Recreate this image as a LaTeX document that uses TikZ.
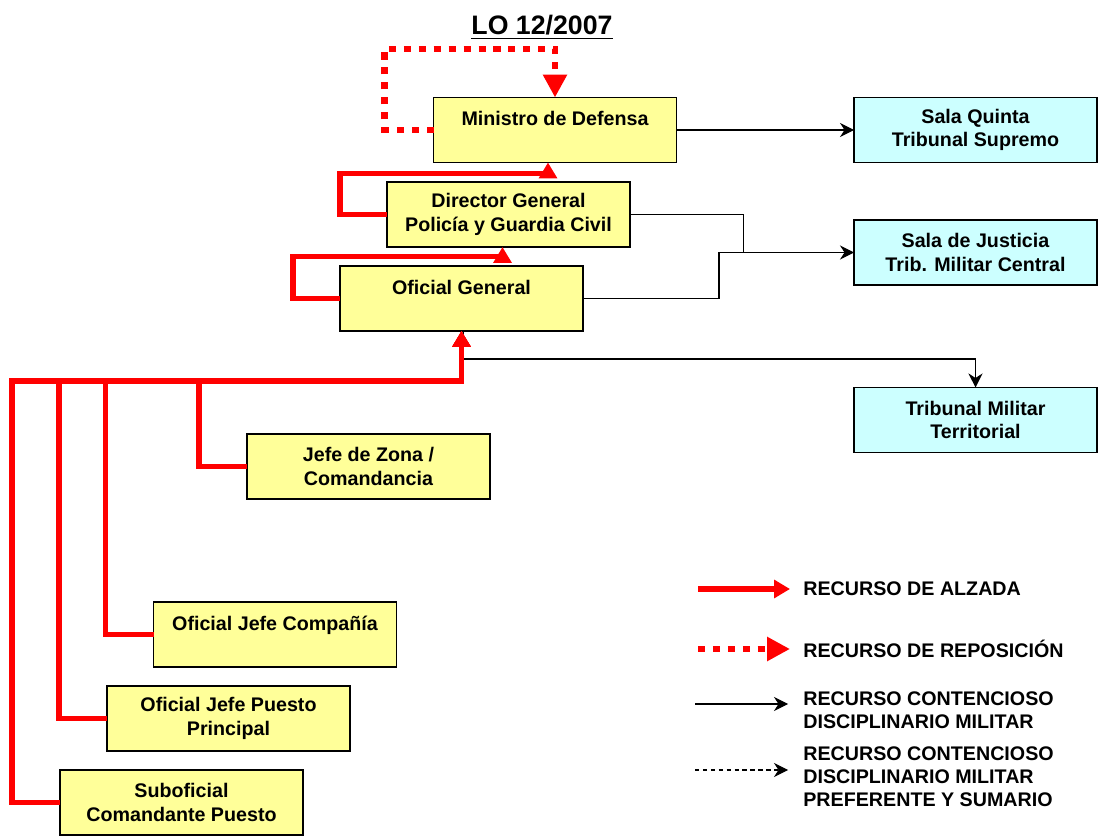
\documentclass[tikz,border=0pt]{standalone}
\usepackage{fontspec}
\setmainfont{Liberation Sans}
\usepackage{xcolor}
\usetikzlibrary{arrows.meta,positioning,calc}
\definecolor{amarillo}{HTML}{FFFF99}
\definecolor{celeste}{HTML}{CCFFFF}

\begin{document}
\begin{tikzpicture}[x=0.02cm,y=-0.02cm,
  caja/.style={draw,line width=0.9pt,minimum width=4.86cm,minimum height=1.3cm,
    inner sep=2pt,outer sep=0pt,align=center,font=\fontsize{11.2}{13.2}\selectfont\bfseries},
  mando/.style={caja,fill=amarillo},
  tribunal/.style={caja,fill=celeste},
  alzada/.style={red,line width=3pt,-{Triangle[length=9pt,width=10pt]}},
  reposicion/.style={red,line width=3.5pt,dash pattern=on 4pt off 4.5pt,-{Triangle[length=13pt,width=13pt]}},
  contencioso/.style={black,line width=0.6pt,-{Stealth[length=8pt,width=8pt]}},
  linea/.style={black,line width=0.6pt},
  leyenda/.style={anchor=west,inner sep=0pt,align=left,font=\fontsize{11.2}{13.2}\selectfont\bfseries}]
\useasboundingbox (0,0) rectangle (1102,837);

% Title
\node[anchor=base,font=\fontsize{15.2}{18}\selectfont\bfseries] (titulo) at (542,35) {\underline{LO 12/2007}};

% Chain of command
\node[mando] (min) at (555,130) {Ministro de Defensa\\~};
\node[mando] (dir) at (508.5,214.5) {Director General\\Policía y Guardia Civil};
\node[mando] (og) at (461.5,298.5) {Oficial General\\~};
\node[mando] (zona) at (368.5,466.5) {Jefe de Zona /\\Comandancia};
\node[mando] (comp) at (275,634.5) {Oficial Jefe Compañía\\~};
\node[mando] (puesto) at (228.5,718.5) {Oficial Jefe Puesto\\Principal};
\node[mando] (sub) at (181.5,802.5) {Suboficial\\Comandante Puesto};

% Courts
\node[tribunal] (sq) at (975.5,130) {Sala Quinta\\Tribunal Supremo};
\node[tribunal] (sj) at (975.5,252.5) {Sala de Justicia\\Trib. Militar Central};
\node[tribunal] (tmt) at (975.5,420) {Tribunal Militar\\Territorial};

% Contencioso disciplinario
\draw[contencioso] (min.east) -- (sq.west);
\draw[linea] (dir.east) -| ($(sj.west)+(-111,0)$);
\draw[contencioso] (og.east) -- ++(136,0) |- (sj.west);
\draw[contencioso] ($(og.south)+(2,0)$) -- ++(0,28) -| (tmt.north);

% Reposicion
\draw[reposicion] (min.west) -- ++(-49,0) -- ++(0,-81) -| (min.north);

% Alzada
\draw[alzada] (dir.west) -- ++(-47,0) -- ++(0,-41) -| ($(min.south)+(-7,0)$);
\draw[alzada] (og.west) -- ++(-47,0) -- ++(0,-42) -| ($(dir.south)+(-6,0)$);
\coordinate (bus) at (461.5,381);
\foreach \n in {sub,puesto,comp,zona}
  \draw[alzada] (\n.west) -- ++(-48,0) |- (bus) -- (og.south);

% Legend
\node[leyenda] (l1) at (803,589) {RECURSO DE ALZADA};
\node[leyenda] (l2) at (803,649) {RECURSO DE REPOSICIÓN};
\node[leyenda] (l3) at (803,710) {RECURSO CONTENCIOSO\\DISCIPLINARIO MILITAR};
\node[leyenda] (l4) at (803,777) {RECURSO CONTENCIOSO\\DISCIPLINARIO MILITAR\\PREFERENTE Y SUMARIO};
\draw[alzada] ($(l1.west)+(-105,0)$) -- ($(l1.west)+(-13,0)$);
\draw[reposicion] ($(l2.west)+(-105,0)$) -- ($(l2.west)+(-13,0)$);
\draw[contencioso] ($(l3.west)+(-108,-6)$) -- ($(l3.west)+(-15,-6)$);
\draw[contencioso,dash pattern=on 2.5pt off 2pt] ($(l4.west)+(-108,-7)$) -- ($(l4.west)+(-15,-7)$);
\end{tikzpicture}
\end{document}
